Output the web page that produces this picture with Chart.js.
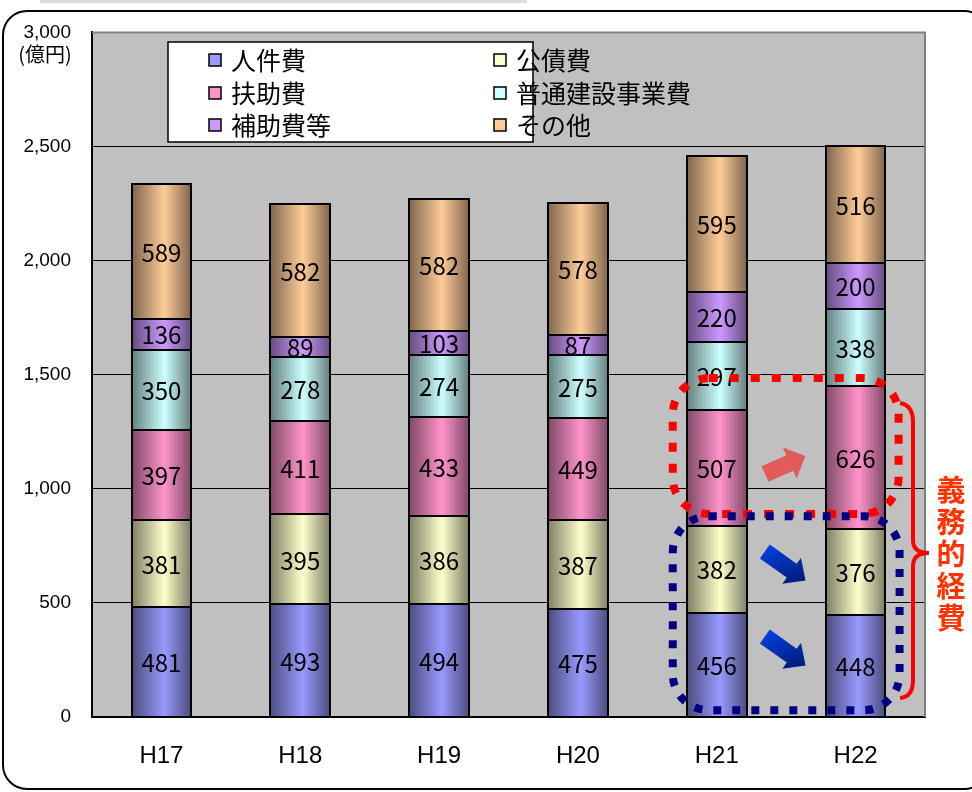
<!DOCTYPE html>
<html lang="ja">
<head>
<meta charset="utf-8">
<script src="https://cdn.jsdelivr.net/npm/chart.js@4.4.0/dist/chart.umd.min.js"></script>
<style>
  body { margin: 0; background: #fff; }
  #wrap { width: 972px; height: 792px; }
</style>
</head>
<body>
<div id="wrap"><canvas id="costChart" width="972" height="792"></canvas></div>
<script>
// 年度と費目別の歳出（億円）
const years = ["H17", "H18", "H19", "H20", "H21", "H22"];
const personnel = [481, 493, 494, 475, 456, 448];     // 人件費
const debtService = [381, 395, 386, 387, 382, 376];   // 公債費
const welfare = [397, 411, 433, 449, 507, 626];       // 扶助費
const construction = [350, 278, 274, 275, 297, 338];  // 普通建設事業費
const subsidies = [136, 89, 103, 87, 220, 200];       // 補助費等
const others = [589, 582, 582, 578, 595, 516];        // その他
const yTicks = [0, 500, 1000, 1500, 2000, 2500, 3000];

const seriesNames = ["人件費", "公債費", "扶助費", "普通建設事業費", "補助費等", "その他"];
const seriesValues = [personnel, debtService, welfare, construction, subsidies, others];
const seriesColors = ["#9999ff", "#ffffcc", "#ff94cc", "#ccffff", "#cc99ff", "#ffcc99"];

const JP = '"Noto Sans CJK JP", "Noto Sans", sans-serif';

// 外枠（角丸）を描く
function roundRect(ctx, x, y, w, h, r) {
  ctx.beginPath();
  ctx.moveTo(x + r, y);
  ctx.lineTo(x + w - r, y);
  ctx.arcTo(x + w, y, x + w, y + r, r);
  ctx.lineTo(x + w, y + h - r);
  ctx.arcTo(x + w, y + h, x + w - r, y + h, r);
  ctx.lineTo(x + r, y + h);
  ctx.arcTo(x, y + h, x, y + h - r, r);
  ctx.lineTo(x, y + r);
  ctx.arcTo(x, y, x + r, y, r);
  ctx.closePath();
}

// ブロック矢印
function blockArrow(ctx, cx, cy, angle, len, shaftW, headW, headLen, fill) {
  ctx.save();
  ctx.translate(cx, cy);
  ctx.rotate(angle);
  ctx.beginPath();
  ctx.moveTo(-len / 2, -shaftW / 2);
  ctx.lineTo(len / 2 - headLen, -shaftW / 2);
  ctx.lineTo(len / 2 - headLen, -headW / 2);
  ctx.lineTo(len / 2, 0);
  ctx.lineTo(len / 2 - headLen, headW / 2);
  ctx.lineTo(len / 2 - headLen, shaftW / 2);
  ctx.lineTo(-len / 2, shaftW / 2);
  ctx.closePath();
  if (typeof fill === "function") {
    ctx.fillStyle = fill(ctx, len, headW);
  } else {
    ctx.fillStyle = fill;
  }
  ctx.fill();
  ctx.restore();
}

const framePlugin = {
  id: "frame",
  beforeDraw(chart) {
    const ctx = chart.ctx;
    const a = chart.chartArea;
    ctx.save();
    ctx.fillStyle = "#fff";
    ctx.fillRect(0, 0, chart.width, chart.height);
    ctx.fillStyle = "#dcdcdc";
    ctx.fillRect(40, 0, 487, 3);
    roundRect(ctx, 3, 11, 985, 778, 24);
    ctx.lineWidth = 2;
    ctx.strokeStyle = "#000";
    ctx.stroke();
    // プロットエリアの背景
    ctx.fillStyle = "#c0c0c0";
    ctx.fillRect(a.left, a.top, a.right - a.left, a.bottom - a.top);
    ctx.restore();
  },
  afterDraw(chart) {
    const ctx = chart.ctx;
    const a = chart.chartArea;
    ctx.save();
    ctx.strokeStyle = "#808080";
    ctx.lineWidth = 2;
    ctx.beginPath();
    ctx.moveTo(a.left, a.top);
    ctx.lineTo(a.right, a.top);
    ctx.lineTo(a.right, a.bottom);
    ctx.stroke();
    // 単位
    ctx.fillStyle = "#000";
    ctx.font = "20px " + JP;
    ctx.textAlign = "center";
    ctx.textBaseline = "middle";
    ctx.fillText("(億円)", 45, 54);
    ctx.restore();
  }
};

// 棒の立体感（左右を暗く）、枠線と数値ラベル
const barShadePlugin = {
  id: "barShade",
  afterDatasetsDraw(chart) {
    const ctx = chart.ctx;
    ctx.save();
    chart.data.datasets.forEach((ds, di) => {
      const meta = chart.getDatasetMeta(di);
      meta.data.forEach((bar) => {
        const left = Math.round(bar.x - bar.width / 2);
        const right = Math.round(bar.x + bar.width / 2);
        const top = Math.round(bar.y);
        const bottom = Math.round(bar.base);
        const g = ctx.createLinearGradient(left, 0, right, 0);
        g.addColorStop(0, "rgba(0,0,0,0.5)");
        g.addColorStop(0.55, "rgba(0,0,0,0)");
        g.addColorStop(1, "rgba(0,0,0,0.5)");
        ctx.fillStyle = g;
        ctx.fillRect(left, top, right - left, bottom - top);
        ctx.strokeStyle = "#000";
        ctx.lineWidth = 2;
        ctx.strokeRect(left, top, right - left, bottom - top);
      });
    });
    ctx.fillStyle = "#000";
    ctx.font = "24px " + JP;
    ctx.textAlign = "center";
    ctx.textBaseline = "middle";
    chart.data.datasets.forEach((ds, di) => {
      const meta = chart.getDatasetMeta(di);
      meta.data.forEach((bar, i) => {
        ctx.fillText(String(ds.data[i]), bar.x, (bar.y + bar.base) / 2 + 1);
      });
    });
    ctx.restore();
  }
};

// 凡例（2列×3行）
const legendPlugin = {
  id: "boxLegend",
  afterDraw(chart) {
    const ctx = chart.ctx;
    ctx.save();
    ctx.fillStyle = "#fff";
    ctx.fillRect(168, 42, 365, 100);
    ctx.strokeStyle = "#000";
    ctx.lineWidth = 1.5;
    ctx.strokeRect(168, 42, 365, 100);
    const colX = [215, 500];
    const rowY = [60, 93, 125];
    ctx.font = "25px " + JP;
    ctx.textBaseline = "middle";
    ctx.textAlign = "left";
    chart.data.datasets.forEach((ds, i) => {
      const x = colX[i % 2];
      const y = rowY[Math.floor(i / 2)];
      ctx.fillStyle = ds.backgroundColor;
      ctx.fillRect(x - 6, y - 6, 12, 12);
      ctx.lineWidth = 1.5;
      ctx.strokeStyle = "#000";
      ctx.strokeRect(x - 6, y - 6, 12, 12);
      ctx.fillStyle = "#000";
      ctx.fillText(ds.label, x + 16, y);
    });
    ctx.restore();
  }
};

// 義務的経費の囲みと矢印
const notePlugin = {
  id: "notes",
  afterDraw(chart) {
    const ctx = chart.ctx;
    const xs = chart.scales.x;
    const ys = chart.scales.y;
    const x21 = xs.getPixelForValue(4);
    const x22 = xs.getPixelForValue(5);
    ctx.save();

    // 扶助費（赤の点線）
    ctx.lineWidth = 8;
    ctx.setLineDash([9, 12]);
    ctx.strokeStyle = "#ff0000";
    roundRect(ctx, x21 - 44, ys.getPixelForValue(1485), x22 - x21 + 87, ys.getPixelForValue(890) - ys.getPixelForValue(1485), 36);
    ctx.stroke();

    // 人件費・公債費（紺の点線）
    ctx.strokeStyle = "#000080";
    ctx.setLineDash([8, 11]);
    roundRect(ctx, x21 - 44, ys.getPixelForValue(880), x22 - x21 + 88, ys.getPixelForValue(30) - ys.getPixelForValue(880), 36);
    ctx.stroke();
    ctx.setLineDash([]);

    const mid = (x21 + x22) / 2;
    blockArrow(ctx, mid - 1, 465, -0.42, 44, 17, 34, 17, "rgba(230,80,80,0.9)");
    const blue = (c, len, hw) => {
      const g = c.createLinearGradient(-len / 2, -hw / 2, len / 2, hw / 2);
      g.addColorStop(0, "#0044ee");
      g.addColorStop(1, "#001560");
      return g;
    };
    blockArrow(ctx, mid - 1, 566, 0.62, 50, 17, 32, 17, blue);
    blockArrow(ctx, mid - 1, 651, 0.62, 50, 17, 32, 17, blue);

    // 中かっこ
    ctx.strokeStyle = "#ff0000";
    ctx.lineWidth = 4;
    ctx.beginPath();
    ctx.moveTo(900, 403);
    ctx.quadraticCurveTo(913, 405, 913, 422);
    ctx.lineTo(913, 540);
    ctx.quadraticCurveTo(913, 553, 929, 553);
    ctx.quadraticCurveTo(913, 553, 913, 566);
    ctx.lineTo(913, 680);
    ctx.quadraticCurveTo(913, 697, 900, 698);
    ctx.stroke();

    ctx.fillStyle = "#ff3300";
    ctx.font = "bold 29px " + JP;
    ctx.textAlign = "center";
    ctx.textBaseline = "middle";
    "義務的経費".split("").forEach((ch, i) => {
      ctx.fillText(ch, 951, 490 + i * 32);
    });
    ctx.restore();
  }
};

new Chart(document.getElementById("costChart"), {
  type: "bar",
  data: {
    labels: years,
    datasets: seriesNames.map((name, i) => ({
      label: name,
      data: seriesValues[i],
      backgroundColor: seriesColors[i],
      borderWidth: 0,
      barPercentage: 0.43,
      categoryPercentage: 1
    }))
  },
  options: {
    responsive: false,
    animation: false,
    layout: { padding: { top: 32, right: 47, left: 10, bottom: 14 } },
    plugins: { legend: { display: false }, tooltip: { enabled: false } },
    scales: {
      x: {
        stacked: true,
        grid: { display: false },
        border: { color: "#000", width: 2 },
        ticks: { color: "#000", padding: 17, font: { family: "'Liberation Sans', Arial, sans-serif", size: 24 } },
        afterFit(s) { s.height = 61; }
      },
      y: {
        stacked: true,
        min: 0,
        max: 3000,
        afterBuildTicks(s) { s.ticks = yTicks.map((v) => ({ value: v })); },
        grid: { color: "#000", lineWidth: 1, drawTicks: false },
        border: { color: "#000", width: 2 },
        ticks: {
          color: "#000",
          padding: 21,
          font: { family: "'Liberation Sans', Arial, sans-serif", size: 19 },
          callback: (v) => v.toLocaleString("en-US")
        },
        afterFit(s) { s.width = 82; }
      }
    }
  },
  plugins: [framePlugin, barShadePlugin, legendPlugin, notePlugin]
});
</script>
</body>
</html>
